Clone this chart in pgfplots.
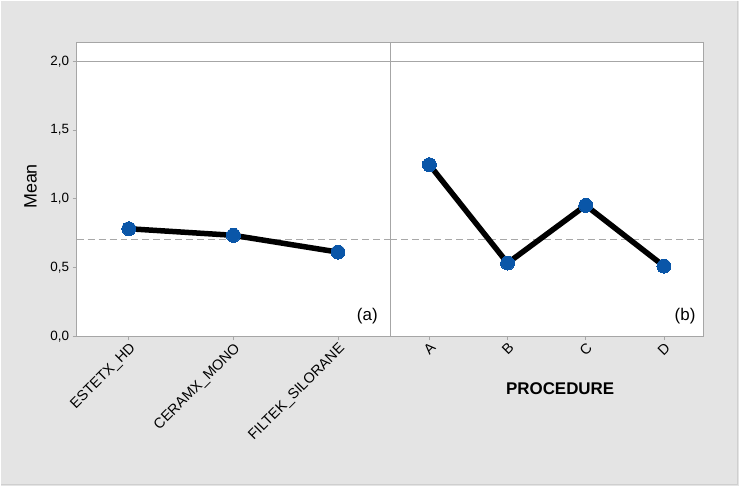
\documentclass[border=0pt]{standalone}
\usepackage{pgfplots}
\pgfplotsset{compat=1.18}
\usepackage{fontspec}
\setmainfont{Liberation Sans}
\definecolor{bg}{HTML}{E4E4E4}
\definecolor{frame}{HTML}{A6A6A6}
\definecolor{dot}{HTML}{0A56A8}
\definecolor{refl}{HTML}{A8A8A8}
\definecolor{edge}{HTML}{CFCFCF}
\pgfplotsset{
  panel/.style={
    scale only axis, height=294bp, ymin=0, ymax=2.138,
    axis background/.style={fill=white},
    axis line style={frame, line width=0.9bp},
    tick style={frame, line width=0.9bp},
    major tick length=4bp,
    tick align=outside,
    xtick pos=bottom, ytick pos=left,
    /pgf/number format/assume math mode=true,
    tick label style={font=\fontsize{13.5}{15}\selectfont},
    x tick label style={rotate=45, anchor=north east, inner sep=1bp, font=\fontsize{14.5}{16}\selectfont},
    clip=false,
  },
  meanline/.style={black, line width=5.5bp, mark=*, mark size=7bp, mark options={fill=dot, draw=dot, line width=0pt}},
}
\begin{document}
\begin{tikzpicture}[x=1bp,y=1bp]
\fill[bg] (0,0) rectangle (739,486);
\draw[edge, line width=1.2bp] (737.5,486) -- (737.5,1.5) -- (0,1.5);
\begin{axis}[panel, at={(76bp,150bp)}, anchor=south west, width=314bp,
  xmin=0.5, xmax=3.5, xtick={1,2,3},
  xticklabels={ESTETX\_HD,CERAMX\_MONO,FILTEK\_SILORANE},
  ytick={0,0.5,1,1.5,2},
  yticklabel style={/pgf/number format/.cd, fixed, fixed zerofill, precision=1, use comma},
]
\addplot[frame, line width=0.9bp, forget plot] coordinates {(0.5,2) (3.5,2)};
\addplot[refl, line width=1bp, dash pattern=on 7bp off 4bp, forget plot] coordinates {(0.5,0.705) (3.5,0.705)};
\addplot[meanline] coordinates {(1,0.783) (2,0.735) (3,0.613)};
\end{axis}
\begin{axis}[panel, at={(390bp,150bp)}, anchor=south west, width=313bp,
  xmin=0.5, xmax=4.5, xtick={1,2,3,4},
  xticklabels={A,B,C,D},
  ytick=\empty,
]
\addplot[frame, line width=0.9bp, forget plot] coordinates {(0.5,2) (4.5,2)};
\addplot[refl, line width=1bp, dash pattern=on 7bp off 4bp, forget plot] coordinates {(0.5,0.705) (4.5,0.705)};
\addplot[meanline] coordinates {(1,1.249) (2,0.533) (3,0.953) (4,0.511)};
\end{axis}
\node[rotate=90, font=\fontsize{18}{20}\selectfont] at (30,300) {Mean};
\node[font=\bfseries\fontsize{17}{20}\selectfont] at (560,98) {PROCEDURE};
\node[font=\fontsize{17}{20}\selectfont] at (367,170) {(a)};
\node[font=\fontsize{17}{20}\selectfont] at (685,170) {(b)};
\end{tikzpicture}
\end{document}
